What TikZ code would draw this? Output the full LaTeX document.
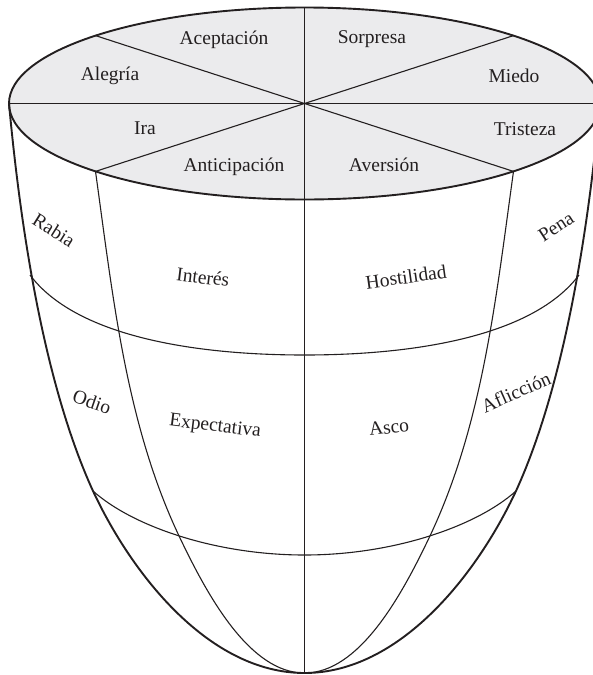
\documentclass[tikz,border=0pt]{standalone}
\usepackage{fontspec}
\setmainfont{Liberation Serif}
\definecolor{ink}{HTML}{231F20}
\definecolor{diskgray}{HTML}{EBEBED}
\begin{document}
\begin{tikzpicture}[x=1pt,y=-1pt,
  lbl/.style={font=\fontsize{19.5}{21}\selectfont, text=ink, inner sep=0pt},
  outerline/.style={line width=1.9pt, draw=ink, line join=round},
  innerline/.style={line width=1.1pt, draw=ink}]
\useasboundingbox (0,0) rectangle (593,675);
% key points
\coordinate (C) at (304.5,103.5);
\coordinate (L) at (9,103.5);
\coordinate (R) at (600,103.5);
\coordinate (T) at (304.5,7.5);
\coordinate (UL) at (95.5,35.6);
\coordinate (UR) at (513.5,35.6);
\coordinate (LL) at (95.5,171.4);
\coordinate (LR) at (513.5,171.4);
\coordinate (bot) at (304.5,673);
\coordinate (bandL) at (93,491);
\coordinate (bandR) at (516,491);
\coordinate (upL) at (30,275);
\coordinate (upR) at (579,275);
\coordinate (upM) at (304.5,355);
\coordinate (loM) at (304.5,555);
% disc fill
\fill[diskgray] (C) ellipse [x radius=295.5pt, y radius=96pt];
% bands
\draw[innerline] (upL) .. controls (75,335) and (190,355) .. (upM)
  .. controls (419,355) and (534,335) .. (upR);
\draw[innerline] (bandL) .. controls (132,526) and (215,555) .. (loM)
  .. controls (394,555) and (477,526) .. (bandR);
% inner meridians
\draw[innerline] (LL) .. controls (113,297) and (126,425) .. (180,538)
  .. controls (208,596.6) and (250,673) .. (bot);
\draw[innerline] (bot) .. controls (359,673) and (401,596.6) .. (429,538)
  .. controls (483,425) and (496,297) .. (LR);
% center line and disc diameters
\draw[innerline] (T) -- (bot);
\draw[innerline] (L) -- (R);
\draw[innerline] (UL) -- (LR);
\draw[innerline] (UR) -- (LL);
% outer contour
\draw[outerline] (L) .. controls (21,233.5) and (44.9,385.6) .. (bandL)
  .. controls (132.7,576) and (210,673) .. (bot)
  .. controls (399,673) and (476.3,576) .. (bandR)
  .. controls (564.1,385.6) and (588,233.5) .. (R);
% disc outline
\draw[outerline] (C) ellipse [x radius=295.5pt, y radius=96pt];
% disc labels
\node[lbl, anchor=base] (acep) at (224,44) {Aceptación};
\node[lbl, anchor=base] (sorp) at (372,43.5) {Sorpresa};
\node[lbl, anchor=base] (aleg) at (110,80) {Alegría};
\node[lbl, anchor=base] (mied) at (514,82) {Miedo};
\node[lbl, anchor=base] (ira) at (145,134) {Ira};
\node[lbl, anchor=base] (tris) at (525,135) {Tristeza};
\node[lbl, anchor=base] (anti) at (234,171.5) {Anticipación};
\node[lbl, anchor=base] (aver) at (384,171.5) {Aversión};
% body labels
\node[lbl, rotate=-32] (rabi) at (54,230) {Rabia};
\node[lbl, rotate=-7] (inte) at (203,277) {Interés};
\node[lbl, rotate=8] (host) at (406,277) {Hostilidad};
\node[lbl, rotate=33] (pena) at (556,227) {Pena};
\node[lbl, rotate=-19] (odio) at (92,402) {Odio};
\node[lbl, rotate=-7] (expe) at (215,427) {Expectativa};
\node[lbl, rotate=7] (asco) at (389,427) {Asco};
\node[lbl, rotate=24] (afli) at (516,392) {Aflicción};
\end{tikzpicture}
\end{document}
